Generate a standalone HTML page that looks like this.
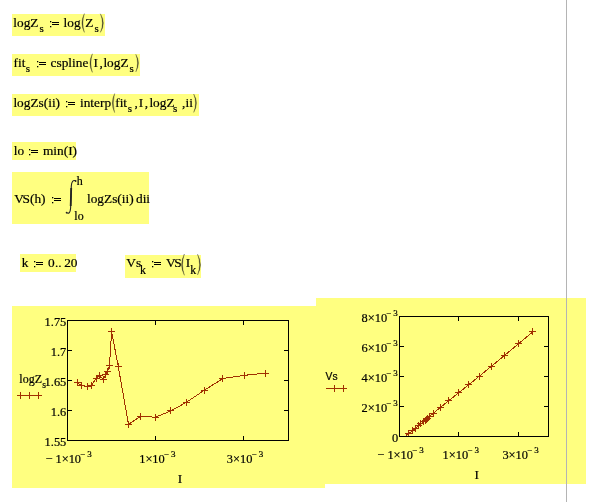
<!DOCTYPE html>
<html><head><meta charset="utf-8"><title>Mathcad worksheet</title>
<style>html,body{margin:0;padding:0;background:#fff;overflow:hidden}svg{display:block;will-change:transform}</style>
</head><body>
<svg width="607" height="502" viewBox="0 0 607 502">
<rect x="0" y="0" width="607" height="502" fill="#fff"/>
<rect x="12" y="14" width="93" height="22" fill="#ffff80"/>
<rect x="12" y="54" width="128" height="22" fill="#ffff80"/>
<rect x="12" y="94" width="187" height="22" fill="#ffff80"/>
<rect x="12" y="142" width="64" height="18" fill="#ffff80"/>
<rect x="12" y="172" width="137" height="52" fill="#ffff80"/>
<rect x="20" y="254" width="56" height="18" fill="#ffff80"/>
<rect x="125" y="255" width="76" height="23" fill="#ffff80"/>
<rect x="12" y="306" width="313" height="182" fill="#ffff80"/>
<rect x="316" y="298" width="270" height="186" fill="#ffff80"/>
<text x="13.3" y="27" font-size="13.33" font-family='"Liberation Serif", serif' fill="#000" stroke="#000" stroke-width="0.2">logZ</text>
<text x="39.6" y="32" font-size="11" font-family='"Liberation Serif", serif' fill="#000" stroke="#000" stroke-width="0.2">s</text>
<rect x="50" y="21" width="1.3" height="1.3" fill="#000"/>
<rect x="50" y="26" width="1.3" height="1.3" fill="#000"/>
<rect x="52" y="22" width="7" height="1" fill="#000"/>
<rect x="52" y="24" width="7" height="1" fill="#000"/>
<text x="63.6" y="27" font-size="13.33" font-family='"Liberation Serif", serif' fill="#000" stroke="#000" stroke-width="0.2">log</text>
<path d="M84.40,13.6 Q79.45,23.0 84.40,32.4 Q81.35,23.0 84.40,13.6 Z" fill="#3a3a24" stroke="#3a3a24" stroke-width="0.3"/>
<text x="85.2" y="27" font-size="13.33" font-family='"Liberation Serif", serif' fill="#000" stroke="#000" stroke-width="0.2">Z</text>
<text x="94.6" y="32" font-size="11" font-family='"Liberation Serif", serif' fill="#000" stroke="#000" stroke-width="0.2">s</text>
<path d="M100.40,13.8 Q104.45,23.1 100.40,32.4 Q106.35,23.1 100.40,13.8 Z" fill="#3a3a24" stroke="#3a3a24" stroke-width="0.3"/>
<text x="13.6" y="67" font-size="13.33" font-family='"Liberation Serif", serif' fill="#000" stroke="#000" stroke-width="0.2">fit</text>
<text x="25.8" y="72" font-size="11" font-family='"Liberation Serif", serif' fill="#000" stroke="#000" stroke-width="0.2">s</text>
<rect x="37" y="61" width="1.3" height="1.3" fill="#000"/>
<rect x="37" y="66" width="1.3" height="1.3" fill="#000"/>
<rect x="39" y="62" width="7" height="1" fill="#000"/>
<rect x="39" y="64" width="7" height="1" fill="#000"/>
<text x="50.6" y="67" font-size="13.33" font-family='"Liberation Serif", serif' fill="#000" stroke="#000" stroke-width="0.2">cspline</text>
<path d="M92.40,53.8 Q87.45,63.1 92.40,72.4 Q89.35,63.1 92.40,53.8 Z" fill="#3a3a24" stroke="#3a3a24" stroke-width="0.3"/>
<text x="93.6" y="67" font-size="13.33" font-family='"Liberation Serif", serif' fill="#000" stroke="#000" stroke-width="0.2">I</text>
<text x="99.6" y="67" font-size="13.33" font-family='"Liberation Serif", serif' fill="#000" stroke="#000" stroke-width="0.2">,</text>
<text x="103.4" y="67" font-size="13.33" font-family='"Liberation Serif", serif' fill="#000" stroke="#000" stroke-width="0.2">logZ</text>
<text x="129.4" y="72" font-size="11" font-family='"Liberation Serif", serif' fill="#000" stroke="#000" stroke-width="0.2">s</text>
<path d="M135.80,54.3 Q139.25,63.1 135.80,71.9 Q141.15,63.1 135.80,54.3 Z" fill="#3a3a24" stroke="#3a3a24" stroke-width="0.3"/>
<text x="13.4" y="107" font-size="13.33" font-family='"Liberation Serif", serif' fill="#000" stroke="#000" stroke-width="0.2">logZs(ii)</text>
<rect x="66" y="101" width="1.3" height="1.3" fill="#000"/>
<rect x="66" y="106" width="1.3" height="1.3" fill="#000"/>
<rect x="68" y="102" width="7" height="1" fill="#000"/>
<rect x="68" y="104" width="7" height="1" fill="#000"/>
<text x="80.0" y="107" font-size="13.33" font-family='"Liberation Serif", serif' fill="#000" stroke="#000" stroke-width="0.2">interp</text>
<path d="M114.60,93.6 Q110.05,103.1 114.60,112.6 Q111.95,103.1 114.60,93.6 Z" fill="#3a3a24" stroke="#3a3a24" stroke-width="0.3"/>
<text x="115.2" y="107" font-size="13.33" font-family='"Liberation Serif", serif' fill="#000" stroke="#000" stroke-width="0.2">fit</text>
<text x="127.8" y="112" font-size="11" font-family='"Liberation Serif", serif' fill="#000" stroke="#000" stroke-width="0.2">s</text>
<text x="134.6" y="107" font-size="13.33" font-family='"Liberation Serif", serif' fill="#000" stroke="#000" stroke-width="0.2">,</text>
<text x="138.8" y="107" font-size="13.33" font-family='"Liberation Serif", serif' fill="#000" stroke="#000" stroke-width="0.2">I</text>
<text x="144.7" y="107" font-size="13.33" font-family='"Liberation Serif", serif' fill="#000" stroke="#000" stroke-width="0.2">,</text>
<text x="149.4" y="107" font-size="13.33" font-family='"Liberation Serif", serif' fill="#000" stroke="#000" stroke-width="0.2">logZ</text>
<text x="173.0" y="112" font-size="11" font-family='"Liberation Serif", serif' fill="#000" stroke="#000" stroke-width="0.2">s</text>
<text x="182.0" y="107" font-size="13.33" font-family='"Liberation Serif", serif' fill="#000" stroke="#000" stroke-width="0.2">,</text>
<text x="185.6" y="107" font-size="13.33" font-family='"Liberation Serif", serif' fill="#000" stroke="#000" stroke-width="0.2">ii</text>
<path d="M193.70,94.0 Q197.35,103.2 193.70,112.4 Q199.25,103.2 193.70,94.0 Z" fill="#3a3a24" stroke="#3a3a24" stroke-width="0.3"/>
<text x="13.7" y="155" font-size="13.33" font-family='"Liberation Serif", serif' fill="#000" stroke="#000" stroke-width="0.2">lo</text>
<rect x="29" y="149" width="1.3" height="1.3" fill="#000"/>
<rect x="29" y="154" width="1.3" height="1.3" fill="#000"/>
<rect x="31" y="150" width="7" height="1" fill="#000"/>
<rect x="31" y="152" width="7" height="1" fill="#000"/>
<text x="43.0" y="155" font-size="13.33" font-family='"Liberation Serif", serif' fill="#000" stroke="#000" stroke-width="0.2">min(I)</text>
<text x="14.2" y="203" font-size="13.33" font-family='"Liberation Serif", serif' fill="#000" stroke="#000" stroke-width="0.2" letter-spacing="-1.3">V</text>
<text x="22.6" y="203" font-size="13.33" font-family='"Liberation Serif", serif' fill="#000" stroke="#000" stroke-width="0.2">S(h)</text>
<rect x="52" y="197" width="1.3" height="1.3" fill="#000"/>
<rect x="52" y="202" width="1.3" height="1.3" fill="#000"/>
<rect x="54" y="198" width="7" height="1" fill="#000"/>
<rect x="54" y="200" width="7" height="1" fill="#000"/>
<path d="M75.6,180.8 C73.2,179.6 71.6,181.5 71.3,186 L70.6,208 C70.4,212.6 68.8,214 66.6,212.8" fill="none" stroke="#222" stroke-width="1.1"/>
<path d="M71.2,188 L70.7,206" fill="none" stroke="#222" stroke-width="1.8"/>
<circle cx="75.6" cy="181" r="0.9" fill="#222"/><circle cx="66.6" cy="212.6" r="0.9" fill="#222"/>
<text x="76.8" y="185" font-size="12" font-family='"Liberation Serif", serif' fill="#000" stroke="#000" stroke-width="0.2">h</text>
<text x="74.3" y="220" font-size="12" font-family='"Liberation Serif", serif' fill="#000" stroke="#000" stroke-width="0.2">lo</text>
<text x="87.0" y="203" font-size="13.33" font-family='"Liberation Serif", serif' fill="#000" stroke="#000" stroke-width="0.2">logZs(ii)</text>
<text x="136.0" y="203" font-size="13.33" font-family='"Liberation Serif", serif' fill="#000" stroke="#000" stroke-width="0.2">dii</text>
<text x="21.8" y="267" font-size="13.33" font-family='"Liberation Serif", serif' fill="#000" stroke="#000" stroke-width="0.2">k</text>
<rect x="34" y="261" width="1.3" height="1.3" fill="#000"/>
<rect x="34" y="266" width="1.3" height="1.3" fill="#000"/>
<rect x="36" y="262" width="7" height="1" fill="#000"/>
<rect x="36" y="264" width="7" height="1" fill="#000"/>
<text x="48.1" y="267" font-size="13.33" font-family='"Liberation Serif", serif' fill="#000" stroke="#000" stroke-width="0.2">0</text>
<text x="55.0" y="267" font-size="13.33" font-family='"Liberation Serif", serif' fill="#000" stroke="#000" stroke-width="0.2">..</text>
<text x="64.2" y="267" font-size="13.33" font-family='"Liberation Serif", serif' fill="#000" stroke="#000" stroke-width="0.2">20</text>
<text x="126.3" y="267" font-size="13.33" font-family='"Liberation Serif", serif' fill="#000" stroke="#000" stroke-width="0.2">Vs</text>
<text x="140.0" y="274" font-size="11.8" font-family='"Liberation Serif", serif' fill="#000" stroke="#000" stroke-width="0.2">k</text>
<rect x="152" y="261" width="1.3" height="1.3" fill="#000"/>
<rect x="152" y="266" width="1.3" height="1.3" fill="#000"/>
<rect x="154" y="262" width="7" height="1" fill="#000"/>
<rect x="154" y="264" width="7" height="1" fill="#000"/>
<text x="166.0" y="267" font-size="13.33" font-family='"Liberation Serif", serif' fill="#000" stroke="#000" stroke-width="0.2" letter-spacing="-1.3">VS</text>
<path d="M184.40,254 Q178.75,264.65 184.40,275.3 Q180.65,264.65 184.40,254 Z" fill="#3a3a24" stroke="#3a3a24" stroke-width="0.3"/>
<text x="185.7" y="267" font-size="13.33" font-family='"Liberation Serif", serif' fill="#000" stroke="#000" stroke-width="0.2">I</text>
<text x="190.2" y="274" font-size="11.8" font-family='"Liberation Serif", serif' fill="#000" stroke="#000" stroke-width="0.2">k</text>
<path d="M197.50,254.2 Q201.55,264.6 197.50,275.0 Q203.45,264.6 197.50,254.2 Z" fill="#3a3a24" stroke="#3a3a24" stroke-width="0.3"/>
<rect x="67.5" y="320.5" width="221" height="120" fill="none" stroke="#000" stroke-width="1"/>
<path d="M155.5,320 v5 M155.5,441 v-5" stroke="#000" stroke-width="1"/>
<path d="M243.5,320 v5 M243.5,441 v-5" stroke="#000" stroke-width="1"/>
<path d="M67,350.5 h5 M289,350.5 h-5" stroke="#000" stroke-width="1"/>
<path d="M67,380.5 h5 M289,380.5 h-5" stroke="#000" stroke-width="1"/>
<path d="M67,410.5 h5 M289,410.5 h-5" stroke="#000" stroke-width="1"/>
<text x="66.3" y="326" font-size="12.4" font-family='"Liberation Serif", serif' fill="#000" stroke="#000" stroke-width="0.2" text-anchor="end">1.75</text>
<text x="66.3" y="356" font-size="12.4" font-family='"Liberation Serif", serif' fill="#000" stroke="#000" stroke-width="0.2" text-anchor="end">1.7</text>
<text x="66.3" y="386" font-size="12.4" font-family='"Liberation Serif", serif' fill="#000" stroke="#000" stroke-width="0.2" text-anchor="end">1.65</text>
<text x="66.3" y="416" font-size="12.4" font-family='"Liberation Serif", serif' fill="#000" stroke="#000" stroke-width="0.2" text-anchor="end">1.6</text>
<text x="66.3" y="446" font-size="12.4" font-family='"Liberation Serif", serif' fill="#000" stroke="#000" stroke-width="0.2" text-anchor="end">1.55</text>
<text x="45.4" y="463" font-size="12.4" font-family='"Liberation Serif", serif' stroke="#000" stroke-width="0.2">− 1×10<tspan dx="-1.0" dy="-6.5" font-size="9">−</tspan><tspan dx="2.2" font-size="9">3</tspan></text>
<text x="139.2" y="463" font-size="12.4" font-family='"Liberation Serif", serif' stroke="#000" stroke-width="0.2">1×10<tspan dx="-1.0" dy="-6.5" font-size="9">−</tspan><tspan dx="2.2" font-size="9">3</tspan></text>
<text x="226.8" y="463" font-size="12.4" font-family='"Liberation Serif", serif' stroke="#000" stroke-width="0.2">3×10<tspan dx="-1.0" dy="-6.5" font-size="9">−</tspan><tspan dx="2.2" font-size="9">3</tspan></text>
<text x="177.7" y="483" font-size="13.33" font-family='"Liberation Serif", serif' fill="#000" stroke="#000" stroke-width="0.2">I</text>
<text x="19.3" y="383" font-size="12" font-family='"Liberation Serif", serif' fill="#000" stroke="#000" stroke-width="0.2">logZ</text>
<text x="42.3" y="388" font-size="9.5" font-family='"Liberation Serif", serif' fill="#000" stroke="#000" stroke-width="0.2">s</text>
<path d="M17,395.5 H42 M20.5,392 v7 M29.5,392 v7 M38.5,392 v7" stroke="#a03000" stroke-width="1" fill="none"/>
<clipPath id="cl"><rect x="68" y="321" width="220" height="119"/></clipPath>
<g clip-path="url(#cl)">
<path d="M77.40,382.50 L81.30,385.60 L87.20,386.30 L91.60,385.40 L96.00,378.50 L99.20,375.70 L103.40,379.40 L105.90,374.50 L107.40,371.60 L109.50,365.40 L111.60,331.50 L118.20,366.30 L128.50,424.30 L140.50,416.40 L155.40,417.20 L170.70,411.00 L186.20,402.40 L204.50,390.10 L223.00,378.50 L244.40,375.30 L265.50,373.20" fill="none" stroke="#a03000" stroke-width="1" shape-rendering="crispEdges"/>
<path d="M74.0,382.5 h7 M77.5,379.0 v7" stroke="#a03000" stroke-width="1" shape-rendering="crispEdges"/>
<path d="M78.0,385.5 h7 M81.5,382.0 v7" stroke="#a03000" stroke-width="1" shape-rendering="crispEdges"/>
<path d="M84.0,386.5 h7 M87.5,383.0 v7" stroke="#a03000" stroke-width="1" shape-rendering="crispEdges"/>
<path d="M88.0,385.5 h7 M91.5,382.0 v7" stroke="#a03000" stroke-width="1" shape-rendering="crispEdges"/>
<path d="M93.0,378.5 h7 M96.5,375.0 v7" stroke="#a03000" stroke-width="1" shape-rendering="crispEdges"/>
<path d="M96.0,375.5 h7 M99.5,372.0 v7" stroke="#a03000" stroke-width="1" shape-rendering="crispEdges"/>
<path d="M100.0,379.5 h7 M103.5,376.0 v7" stroke="#a03000" stroke-width="1" shape-rendering="crispEdges"/>
<path d="M102.0,374.5 h7 M105.5,371.0 v7" stroke="#a03000" stroke-width="1" shape-rendering="crispEdges"/>
<path d="M104.0,371.5 h7 M107.5,368.0 v7" stroke="#a03000" stroke-width="1" shape-rendering="crispEdges"/>
<path d="M106.0,365.5 h7 M109.5,362.0 v7" stroke="#a03000" stroke-width="1" shape-rendering="crispEdges"/>
<path d="M108.0,331.5 h7 M111.5,328.0 v7" stroke="#a03000" stroke-width="1" shape-rendering="crispEdges"/>
<path d="M115.0,366.5 h7 M118.5,363.0 v7" stroke="#a03000" stroke-width="1" shape-rendering="crispEdges"/>
<path d="M125.0,424.5 h7 M128.5,421.0 v7" stroke="#a03000" stroke-width="1" shape-rendering="crispEdges"/>
<path d="M137.0,416.5 h7 M140.5,413.0 v7" stroke="#a03000" stroke-width="1" shape-rendering="crispEdges"/>
<path d="M152.0,417.5 h7 M155.5,414.0 v7" stroke="#a03000" stroke-width="1" shape-rendering="crispEdges"/>
<path d="M167.0,410.5 h7 M170.5,407.0 v7" stroke="#a03000" stroke-width="1" shape-rendering="crispEdges"/>
<path d="M183.0,402.5 h7 M186.5,399.0 v7" stroke="#a03000" stroke-width="1" shape-rendering="crispEdges"/>
<path d="M201.0,390.5 h7 M204.5,387.0 v7" stroke="#a03000" stroke-width="1" shape-rendering="crispEdges"/>
<path d="M219.0,378.5 h7 M222.5,375.0 v7" stroke="#a03000" stroke-width="1" shape-rendering="crispEdges"/>
<path d="M241.0,375.5 h7 M244.5,372.0 v7" stroke="#a03000" stroke-width="1" shape-rendering="crispEdges"/>
<path d="M262.0,373.5 h7 M265.5,370.0 v7" stroke="#a03000" stroke-width="1" shape-rendering="crispEdges"/>
</g>
<rect x="399.5" y="316.5" width="149" height="120" fill="none" stroke="#000" stroke-width="1"/>
<path d="M458.5,316 v5 M458.5,437 v-5" stroke="#000" stroke-width="1"/>
<path d="M518.5,316 v5 M518.5,437 v-5" stroke="#000" stroke-width="1"/>
<path d="M399,346.5 h5 M549,346.5 h-5" stroke="#000" stroke-width="1"/>
<path d="M399,376.5 h5 M549,376.5 h-5" stroke="#000" stroke-width="1"/>
<path d="M399,406.5 h5 M549,406.5 h-5" stroke="#000" stroke-width="1"/>
<text x="361.5" y="322" font-size="12.4" font-family='"Liberation Serif", serif' stroke="#000" stroke-width="0.2">8×10<tspan dx="-1.0" dy="-6.5" font-size="9">−</tspan><tspan dx="2.2" font-size="9">3</tspan></text>
<text x="361.5" y="352" font-size="12.4" font-family='"Liberation Serif", serif' stroke="#000" stroke-width="0.2">6×10<tspan dx="-1.0" dy="-6.5" font-size="9">−</tspan><tspan dx="2.2" font-size="9">3</tspan></text>
<text x="361.5" y="382" font-size="12.4" font-family='"Liberation Serif", serif' stroke="#000" stroke-width="0.2">4×10<tspan dx="-1.0" dy="-6.5" font-size="9">−</tspan><tspan dx="2.2" font-size="9">3</tspan></text>
<text x="361.5" y="412" font-size="12.4" font-family='"Liberation Serif", serif' stroke="#000" stroke-width="0.2">2×10<tspan dx="-1.0" dy="-6.5" font-size="9">−</tspan><tspan dx="2.2" font-size="9">3</tspan></text>
<text x="398.3" y="442" font-size="12.4" font-family='"Liberation Serif", serif' fill="#000" stroke="#000" stroke-width="0.2" text-anchor="end">0</text>
<text x="377.3" y="459" font-size="12.4" font-family='"Liberation Serif", serif' stroke="#000" stroke-width="0.2">− 1×10<tspan dx="-1.0" dy="-6.5" font-size="9">−</tspan><tspan dx="2.2" font-size="9">3</tspan></text>
<text x="442.6" y="459" font-size="12.4" font-family='"Liberation Serif", serif' stroke="#000" stroke-width="0.2">1×10<tspan dx="-1.0" dy="-6.5" font-size="9">−</tspan><tspan dx="2.2" font-size="9">3</tspan></text>
<text x="502.4" y="459" font-size="12.4" font-family='"Liberation Serif", serif' stroke="#000" stroke-width="0.2">3×10<tspan dx="-1.0" dy="-6.5" font-size="9">−</tspan><tspan dx="2.2" font-size="9">3</tspan></text>
<text x="474.4" y="478.5" font-size="13.33" font-family='"Liberation Serif", serif' fill="#000" stroke="#000" stroke-width="0.2">I</text>
<text x="325.6" y="380.3" font-size="10.3" font-family='"Liberation Sans", sans-serif' fill="#000" stroke="#000" stroke-width="0.2">Vs</text>
<path d="M326,388.5 H347 M334.5,385 v7 M343.5,385 v7" stroke="#a03000" stroke-width="1" fill="none"/>
<clipPath id="cr"><rect x="400" y="317" width="148" height="119"/></clipPath>
<g clip-path="url(#cr)">
<path d="M406.01,436.00 L408.64,433.83 L412.62,430.54 L415.59,428.09 L418.55,425.63 L420.71,423.84 L423.54,421.48 L425.23,420.07 L426.24,419.23 L427.65,418.04 L429.07,416.83 L433.52,413.01 L440.46,407.34 L448.55,400.89 L458.60,392.86 L468.92,384.58 L479.37,376.14 L491.70,366.06 L504.18,355.75 L518.60,343.73 L532.83,331.84" fill="none" stroke="#a03000" stroke-width="1" shape-rendering="crispEdges"/>
<path d="M403.0,436.5 h7 M406.5,433.0 v7" stroke="#a03000" stroke-width="1" shape-rendering="crispEdges"/>
<path d="M405.0,433.5 h7 M408.5,430.0 v7" stroke="#a03000" stroke-width="1" shape-rendering="crispEdges"/>
<path d="M409.0,430.5 h7 M412.5,427.0 v7" stroke="#a03000" stroke-width="1" shape-rendering="crispEdges"/>
<path d="M412.0,428.5 h7 M415.5,425.0 v7" stroke="#a03000" stroke-width="1" shape-rendering="crispEdges"/>
<path d="M415.0,425.5 h7 M418.5,422.0 v7" stroke="#a03000" stroke-width="1" shape-rendering="crispEdges"/>
<path d="M417.0,423.5 h7 M420.5,420.0 v7" stroke="#a03000" stroke-width="1" shape-rendering="crispEdges"/>
<path d="M420.0,421.5 h7 M423.5,418.0 v7" stroke="#a03000" stroke-width="1" shape-rendering="crispEdges"/>
<path d="M422.0,420.5 h7 M425.5,417.0 v7" stroke="#a03000" stroke-width="1" shape-rendering="crispEdges"/>
<path d="M423.0,419.5 h7 M426.5,416.0 v7" stroke="#a03000" stroke-width="1" shape-rendering="crispEdges"/>
<path d="M424.0,418.5 h7 M427.5,415.0 v7" stroke="#a03000" stroke-width="1" shape-rendering="crispEdges"/>
<path d="M426.0,416.5 h7 M429.5,413.0 v7" stroke="#a03000" stroke-width="1" shape-rendering="crispEdges"/>
<path d="M430.0,413.5 h7 M433.5,410.0 v7" stroke="#a03000" stroke-width="1" shape-rendering="crispEdges"/>
<path d="M437.0,407.5 h7 M440.5,404.0 v7" stroke="#a03000" stroke-width="1" shape-rendering="crispEdges"/>
<path d="M445.0,400.5 h7 M448.5,397.0 v7" stroke="#a03000" stroke-width="1" shape-rendering="crispEdges"/>
<path d="M455.0,392.5 h7 M458.5,389.0 v7" stroke="#a03000" stroke-width="1" shape-rendering="crispEdges"/>
<path d="M465.0,384.5 h7 M468.5,381.0 v7" stroke="#a03000" stroke-width="1" shape-rendering="crispEdges"/>
<path d="M476.0,376.5 h7 M479.5,373.0 v7" stroke="#a03000" stroke-width="1" shape-rendering="crispEdges"/>
<path d="M488.0,366.5 h7 M491.5,363.0 v7" stroke="#a03000" stroke-width="1" shape-rendering="crispEdges"/>
<path d="M501.0,355.5 h7 M504.5,352.0 v7" stroke="#a03000" stroke-width="1" shape-rendering="crispEdges"/>
<path d="M515.0,343.5 h7 M518.5,340.0 v7" stroke="#a03000" stroke-width="1" shape-rendering="crispEdges"/>
<path d="M529.0,331.5 h7 M532.5,328.0 v7" stroke="#a03000" stroke-width="1" shape-rendering="crispEdges"/>
</g>
<rect x="566" y="0" width="1" height="502" fill="#b4b4b4"/>
</svg>
</body></html>
